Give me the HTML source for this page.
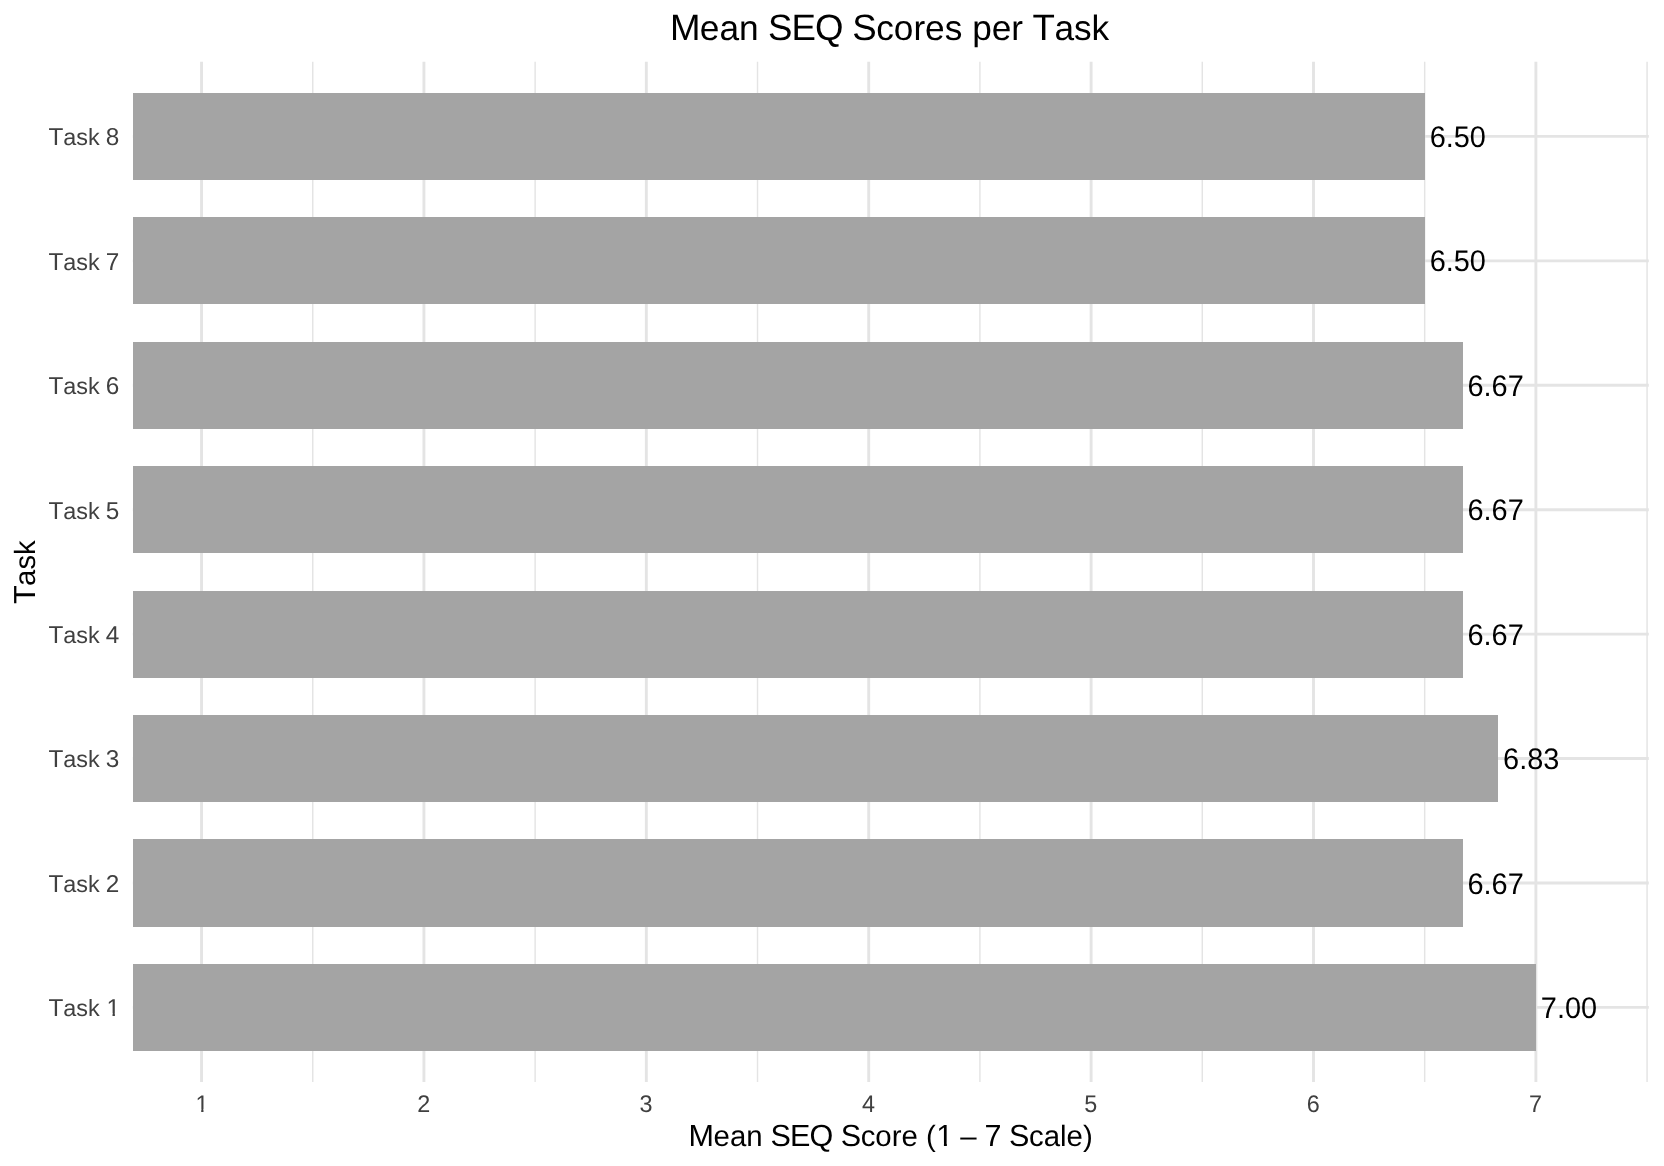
<!DOCTYPE html>
<html><head><meta charset="utf-8"><title>Mean SEQ Scores per Task</title><style>html,body{margin:0;padding:0;background:#fff;overflow:hidden;}svg{display:block;will-change:transform;}text{font-family:"Liberation Sans",sans-serif;text-rendering:geometricPrecision;}</style></head><body>
<svg width="1664" height="1166" viewBox="0 0 1664 1166">
<rect width="1664" height="1166" fill="#fff"/>
<line x1="312.75" y1="61.8" x2="312.75" y2="1082.0" stroke="#E4E4E4" stroke-width="1.45"/>
<line x1="535.13" y1="61.8" x2="535.13" y2="1082.0" stroke="#E4E4E4" stroke-width="1.45"/>
<line x1="757.52" y1="61.8" x2="757.52" y2="1082.0" stroke="#E4E4E4" stroke-width="1.45"/>
<line x1="979.91" y1="61.8" x2="979.91" y2="1082.0" stroke="#E4E4E4" stroke-width="1.45"/>
<line x1="1202.30" y1="61.8" x2="1202.30" y2="1082.0" stroke="#E4E4E4" stroke-width="1.45"/>
<line x1="1424.69" y1="61.8" x2="1424.69" y2="1082.0" stroke="#E4E4E4" stroke-width="1.45"/>
<line x1="1647.08" y1="61.8" x2="1647.08" y2="1082.0" stroke="#E4E4E4" stroke-width="1.45"/>
<line x1="132.8" y1="136.40" x2="1648.8" y2="136.40" stroke="#E4E4E4" stroke-width="2.9"/>
<line x1="132.8" y1="260.83" x2="1648.8" y2="260.83" stroke="#E4E4E4" stroke-width="2.9"/>
<line x1="132.8" y1="385.26" x2="1648.8" y2="385.26" stroke="#E4E4E4" stroke-width="2.9"/>
<line x1="132.8" y1="509.69" x2="1648.8" y2="509.69" stroke="#E4E4E4" stroke-width="2.9"/>
<line x1="132.8" y1="634.12" x2="1648.8" y2="634.12" stroke="#E4E4E4" stroke-width="2.9"/>
<line x1="132.8" y1="758.55" x2="1648.8" y2="758.55" stroke="#E4E4E4" stroke-width="2.9"/>
<line x1="132.8" y1="882.98" x2="1648.8" y2="882.98" stroke="#E4E4E4" stroke-width="2.9"/>
<line x1="132.8" y1="1007.41" x2="1648.8" y2="1007.41" stroke="#E4E4E4" stroke-width="2.9"/>
<line x1="201.55" y1="61.8" x2="201.55" y2="1082.0" stroke="#E4E4E4" stroke-width="2.9"/>
<line x1="423.94" y1="61.8" x2="423.94" y2="1082.0" stroke="#E4E4E4" stroke-width="2.9"/>
<line x1="646.33" y1="61.8" x2="646.33" y2="1082.0" stroke="#E4E4E4" stroke-width="2.9"/>
<line x1="868.72" y1="61.8" x2="868.72" y2="1082.0" stroke="#E4E4E4" stroke-width="2.9"/>
<line x1="1091.11" y1="61.8" x2="1091.11" y2="1082.0" stroke="#E4E4E4" stroke-width="2.9"/>
<line x1="1313.50" y1="61.8" x2="1313.50" y2="1082.0" stroke="#E4E4E4" stroke-width="2.9"/>
<line x1="1535.89" y1="61.8" x2="1535.89" y2="1082.0" stroke="#E4E4E4" stroke-width="2.9"/>
<rect x="133" y="93" width="1292" height="87" fill="#A4A4A4" shape-rendering="crispEdges"/>
<rect x="133" y="217" width="1292" height="87" fill="#A4A4A4" shape-rendering="crispEdges"/>
<rect x="133" y="342" width="1330" height="87" fill="#A4A4A4" shape-rendering="crispEdges"/>
<rect x="133" y="466" width="1330" height="87" fill="#A4A4A4" shape-rendering="crispEdges"/>
<rect x="133" y="591" width="1330" height="87" fill="#A4A4A4" shape-rendering="crispEdges"/>
<rect x="133" y="715" width="1365" height="87" fill="#A4A4A4" shape-rendering="crispEdges"/>
<rect x="133" y="839" width="1330" height="88" fill="#A4A4A4" shape-rendering="crispEdges"/>
<rect x="133" y="964" width="1403" height="87" fill="#A4A4A4" shape-rendering="crispEdges"/>
<text x="1429.68 1445.75 1453.78 1469.85" y="0" font-size="28.9" fill="#000000" transform="translate(0,147) scale(1,1.03)">6.50</text>
<text y="145" font-size="23.4" fill="#404040"><tspan x="48.59" font-size="24.336">T</tspan><tspan x="63.17">a</tspan><tspan x="76.18">s</tspan><tspan x="87.88">k</tspan><tspan x="99.58"> </tspan><tspan x="105.82" font-size="24.336">8</tspan></text>
<text x="1429.68 1445.75 1453.78 1469.85" y="0" font-size="28.9" fill="#000000" transform="translate(0,271) scale(1,1.03)">6.50</text>
<text y="270" font-size="23.4" fill="#404040"><tspan x="48.59" font-size="24.336">T</tspan><tspan x="63.17">a</tspan><tspan x="76.18">s</tspan><tspan x="87.88">k</tspan><tspan x="99.58"> </tspan><tspan x="105.82" font-size="24.336">7</tspan></text>
<text x="1467.48 1483.56 1491.59 1507.66" y="0" font-size="28.9" fill="#000000" transform="translate(0,396) scale(1,1.03)">6.67</text>
<text y="394" font-size="23.4" fill="#404040"><tspan x="48.59" font-size="24.336">T</tspan><tspan x="63.17">a</tspan><tspan x="76.18">s</tspan><tspan x="87.88">k</tspan><tspan x="99.58"> </tspan><tspan x="105.82" font-size="24.336">6</tspan></text>
<text x="1467.48 1483.56 1491.59 1507.66" y="0" font-size="28.9" fill="#000000" transform="translate(0,520) scale(1,1.03)">6.67</text>
<text y="519" font-size="23.4" fill="#404040"><tspan x="48.59" font-size="24.336">T</tspan><tspan x="63.17">a</tspan><tspan x="76.18">s</tspan><tspan x="87.88">k</tspan><tspan x="99.58"> </tspan><tspan x="105.82" font-size="24.336">5</tspan></text>
<text x="1467.48 1483.56 1491.59 1507.66" y="0" font-size="28.9" fill="#000000" transform="translate(0,645) scale(1,1.03)">6.67</text>
<text y="643" font-size="23.4" fill="#404040"><tspan x="48.59" font-size="24.336">T</tspan><tspan x="63.17">a</tspan><tspan x="76.18">s</tspan><tspan x="87.88">k</tspan><tspan x="99.58"> </tspan><tspan x="105.82" font-size="24.336">4</tspan></text>
<text x="1503.07 1519.14 1527.17 1543.24" y="0" font-size="28.9" fill="#000000" transform="translate(0,769) scale(1,1.03)">6.83</text>
<text y="767" font-size="23.4" fill="#404040"><tspan x="48.59" font-size="24.336">T</tspan><tspan x="63.17">a</tspan><tspan x="76.18">s</tspan><tspan x="87.88">k</tspan><tspan x="99.58"> </tspan><tspan x="105.82" font-size="24.336">3</tspan></text>
<text x="1467.48 1483.56 1491.59 1507.66" y="0" font-size="28.9" fill="#000000" transform="translate(0,894) scale(1,1.03)">6.67</text>
<text y="892" font-size="23.4" fill="#404040"><tspan x="48.59" font-size="24.336">T</tspan><tspan x="63.17">a</tspan><tspan x="76.18">s</tspan><tspan x="87.88">k</tspan><tspan x="99.58"> </tspan><tspan x="105.82" font-size="24.336">2</tspan></text>
<text x="1540.86 1556.93 1564.96 1581.03" y="0" font-size="28.9" fill="#000000" transform="translate(0,1018) scale(1,1.03)">7.00</text>
<text y="1016" font-size="23.4" fill="#404040"><tspan x="48.59" font-size="24.336">T</tspan><tspan x="63.17">a</tspan><tspan x="76.18">s</tspan><tspan x="87.88">k</tspan><tspan x="99.58"> </tspan><tspan x="106.51" font-size="24.336">1</tspan></text>
<rect x="107.36" y="1013.18" width="5.15" height="3.82" fill="#fff"/><rect x="114.90" y="1013.18" width="4.96" height="3.82" fill="#fff"/>
<text x="195.43" y="0" font-size="23.4" fill="#404040" transform="translate(0,1112) scale(1,1.03)">1</text>
<rect x="196.21" y="1109.20" width="4.98" height="3.80" fill="#fff"/><rect x="203.50" y="1109.20" width="4.80" height="3.80" fill="#fff"/>
<text x="417.13" y="0" font-size="23.4" fill="#404040" transform="translate(0,1112) scale(1,1.03)">2</text>
<text x="639.52" y="0" font-size="23.4" fill="#404040" transform="translate(0,1112) scale(1,1.03)">3</text>
<text x="861.91" y="0" font-size="23.4" fill="#404040" transform="translate(0,1112) scale(1,1.03)">4</text>
<text x="1084.30" y="0" font-size="23.4" fill="#404040" transform="translate(0,1112) scale(1,1.03)">5</text>
<text x="1306.69" y="0" font-size="23.4" fill="#404040" transform="translate(0,1112) scale(1,1.03)">6</text>
<text x="1529.08" y="0" font-size="23.4" fill="#404040" transform="translate(0,1112) scale(1,1.03)">7</text>
<text y="40" font-size="35.24" fill="#000000"><tspan x="669.92" font-size="36.650">M</tspan><tspan x="699.86">e</tspan><tspan x="719.46">a</tspan><tspan x="739.06">n</tspan><tspan x="758.66"> </tspan><tspan x="767.98" font-size="36.650">S</tspan><tspan x="791.49" font-size="36.650">E</tspan><tspan x="814.91" font-size="36.650">Q</tspan><tspan x="842.87"> </tspan><tspan x="852.19" font-size="36.650">S</tspan><tspan x="876.17">c</tspan><tspan x="893.79">o</tspan><tspan x="913.39">r</tspan><tspan x="925.12">e</tspan><tspan x="944.72">s</tspan><tspan x="962.34"> </tspan><tspan x="972.13">p</tspan><tspan x="991.73">e</tspan><tspan x="1011.33">r</tspan><tspan x="1023.06"> </tspan><tspan x="1032.42" font-size="36.650">T</tspan><tspan x="1054.38">a</tspan><tspan x="1073.98">s</tspan><tspan x="1091.60">k</tspan></text>
<text y="1146" font-size="29.4" fill="#000000"><tspan x="688.60" font-size="30.576">M</tspan><tspan x="713.58">e</tspan><tspan x="729.93">a</tspan><tspan x="746.28">n</tspan><tspan x="762.63"> </tspan><tspan x="770.41" font-size="30.576">S</tspan><tspan x="790.02" font-size="30.576">E</tspan><tspan x="809.56" font-size="30.576">Q</tspan><tspan x="832.89"> </tspan><tspan x="840.66" font-size="30.576">S</tspan><tspan x="860.66">c</tspan><tspan x="875.36">o</tspan><tspan x="891.72">r</tspan><tspan x="901.51">e</tspan><tspan x="917.86"> </tspan><tspan x="926.03">(</tspan><tspan x="936.35" font-size="30.576">1</tspan><tspan x="952.17"> </tspan><tspan x="960.33">–</tspan><tspan x="976.69"> </tspan><tspan x="984.53" font-size="30.576">7</tspan><tspan x="1001.20"> </tspan><tspan x="1008.98" font-size="30.576">S</tspan><tspan x="1028.98">c</tspan><tspan x="1043.68">a</tspan><tspan x="1060.03">l</tspan><tspan x="1066.57">e</tspan><tspan x="1082.92">)</tspan></text>
<rect x="937.68" y="1142.72" width="6.24" height="4.28" fill="#fff"/><rect x="946.86" y="1142.72" width="6.00" height="4.28" fill="#fff"/>
<text y="0" font-size="29.26" fill="#000000" transform="translate(35.30,603.76) rotate(-90)"><tspan x="-0.36" font-size="30.430">T</tspan><tspan x="17.87">a</tspan><tspan x="34.15">s</tspan><tspan x="48.78">k</tspan></text>
</svg></body></html>
